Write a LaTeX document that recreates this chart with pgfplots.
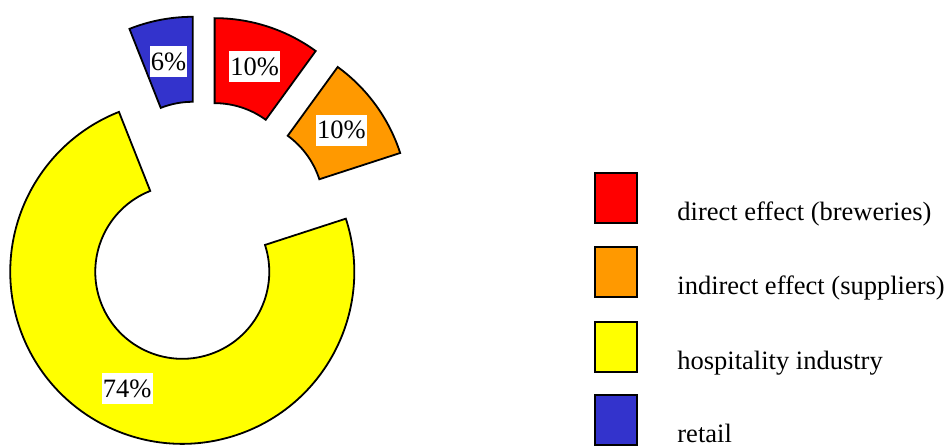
\documentclass[border=0pt]{standalone}
\usepackage{pgfplots}
\pgfplotsset{compat=1.18}
\usepackage{fontspec}
\setmainfont{Liberation Serif}
\definecolor{cRed}{HTML}{FF0000}
\definecolor{cOrange}{HTML}{FF9900}
\definecolor{cYellow}{HTML}{FFFF00}
\definecolor{cBlue}{HTML}{3333CC}
% pie geometry in pixel units (1 unit = 0.5pt)
\def\pcx{201}\def\pcy{214}\def\pR{172}\def\pr{87}\def\pexp{44}
% \slice{start angle}{percent}{colour}
\newcommand{\slice}[3]{%
  \pgfmathsetmacro\sa{#1}%
  \pgfmathsetmacro\ea{#1-3.6*#2}%
  \pgfmathsetmacro\ma{(\sa+\ea)/2}%
  \pgfmathsetmacro\cx{\pcx+\pexp*cos(\ma)}%
  \pgfmathsetmacro\cy{\pcy+\pexp*sin(\ma)}%
  \pgfmathsetmacro\ox{\cx+\pR*cos(\sa)}%
  \pgfmathsetmacro\oy{\cy+\pR*sin(\sa)}%
  \pgfmathsetmacro\ix{\cx+\pr*cos(\ea)}%
  \pgfmathsetmacro\iy{\cy+\pr*sin(\ea)}%
  \pgfmathsetmacro\lx{\cx+129.5*cos(\ma)}%
  \pgfmathsetmacro\ly{\cy+129.5*sin(\ma)}%
  \pgfmathsetmacro\Rpt{\pR*0.5}%
  \pgfmathsetmacro\rpt{\pr*0.5}%
  \pgfmathtruncatemacro\pct{#2}%
  \edef\doslice{\noexpand\filldraw[fill=#3, draw=black, line width=0.9pt, line join=miter]
    (axis cs:\ox,\oy) arc[start angle=\sa, end angle=\ea, radius=\Rpt pt]
    -- (axis cs:\ix,\iy) arc[start angle=\ea, end angle=\sa, radius=\rpt pt] -- cycle;
    \noexpand\node[fill=white, inner xsep=0.6pt, inner ysep=0pt, minimum height=15.5pt, font=\noexpand\labfont]
    at (axis cs:\lx,\ly) {\pct\noexpand\%};}%
  \doslice
}
\newcommand{\labfont}{\fontsize{13.25}{15}\selectfont}
\newcommand{\legitem}[3]{% colour, top y, label
  \pgfmathsetmacro\ytop{#2}%
  \pgfmathsetmacro\ybot{#2-50}%
  \pgfmathsetmacro\ytxt{#2-47}%
  \edef\dolegitem{\noexpand\filldraw[fill=#1, draw=black, line width=0.85pt]
    (axis cs:595,\ybot) rectangle (axis cs:637,\ytop);
    \noexpand\node[anchor=base west, inner sep=0pt, font=\noexpand\labfont] at (axis cs:677,\ytxt) {#3};}%
  \dolegitem
}
\begin{document}
\begin{tikzpicture}
\begin{axis}[
  at={(0,0)}, anchor=south west,
  x=0.5pt, y=0.5pt,
  xmin=0, xmax=951, ymin=0, ymax=446,
  hide axis, clip=false,
]
\slice{90}{10}{cRed}
\slice{54}{10}{cOrange}
\slice{18}{74}{cYellow}
\slice{-248.4}{6}{cBlue}
\legitem{cRed}{273}{direct effect (breweries)}
\legitem{cOrange}{199}{indirect effect (suppliers)}
\legitem{cYellow}{124}{hospitality industry}
\legitem{cBlue}{51}{retail}
\end{axis}
\pgfresetboundingbox
\path[use as bounding box] (0,0) rectangle (475.5pt,223pt);
\end{tikzpicture}
\end{document}
